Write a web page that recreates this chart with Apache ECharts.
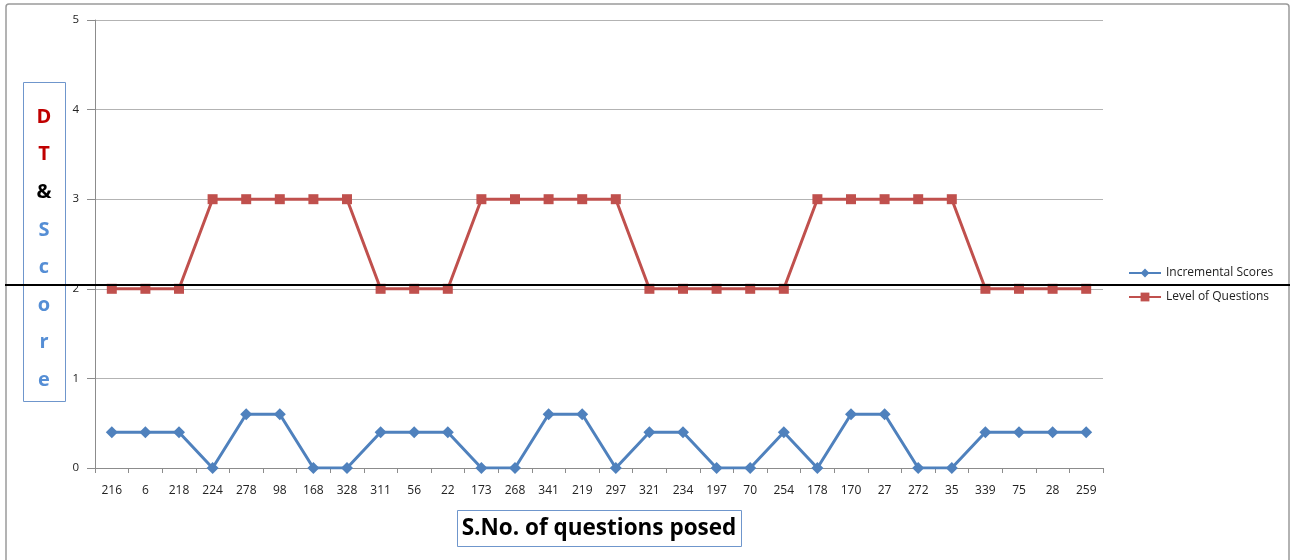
<!DOCTYPE html>
<html>
<head>
<meta charset="utf-8">
<script src="https://cdn.jsdelivr.net/npm/echarts@6/dist/echarts.min.js"></script>
<style>
  html, body { margin: 0; padding: 0; background: #fff; }
  #chart { width: 1293px; height: 560px; }
</style>
</head>
<body>
<div id="chart"></div>
<script>
// Question serial numbers along the x axis
var questionIds = ['216','6','218','224','278','98','168','328','311','56','22','173','268','341','219','297',
                   '321','234','197','70','254','178','170','27','272','35','339','75','28','259'];

// Incremental score earned on each question
var incrementalScores = [0.4,0.4,0.4,0,0.6,0.6,0,0,0.4,0.4,0.4,0,0,0.6,0.6,0,
                         0.4,0.4,0,0,0.4,0,0.6,0.6,0,0,0.4,0.4,0.4,0.4];

// Difficulty level of each question posed
var questionLevels = [2,2,2,3,3,3,3,3,2,2,2,3,3,3,3,3,
                      2,2,2,2,2,3,3,3,3,3,2,2,2,2];

// Vertical axis title letters and their colours
var sideLetters = ['D','T','&','S','c','o','r','e'];
var sideColors  = ['#C00000','#C00000','#000000','#558ED5','#558ED5','#558ED5','#558ED5','#558ED5'];

var FONT = '"Open Sans", "Noto Sans", sans-serif';
var chart = echarts.init(document.getElementById('chart'));

var graphics = [
  // outer frame
  { type: 'rect', shape: { x: 6, y: 4, width: 1283, height: 570, r: 3 },
    style: { fill: 'none', stroke: '#9a9a9a', lineWidth: 1.5 }, z: 0 },
  // side title box
  { type: 'rect', shape: { x: 23.5, y: 82.5, width: 42, height: 319 },
    style: { fill: '#fff', stroke: '#6F96CC', lineWidth: 1 }, z: 5 },
  // x axis title box
  { type: 'rect', shape: { x: 457.5, y: 510.5, width: 284, height: 36 },
    style: { fill: '#fff', stroke: '#6F96CC', lineWidth: 1 }, z: 5 },
  { type: 'text', x: 599, y: 529, z: 6,
    style: { text: 'S.No. of questions posed', fill: '#000', align: 'center', verticalAlign: 'middle',
             font: 'bold 22.5px ' + FONT } },
  // horizontal reference line across the chart
  { type: 'line', shape: { x1: 5, y1: 285, x2: 1290, y2: 285 },
    style: { stroke: '#000', lineWidth: 2 }, z: 20 }
];
sideLetters.forEach(function (ch, i) {
  graphics.push({ type: 'text', x: 44, y: 117 + i * 37.6, z: 6,
    style: { text: ch, fill: sideColors[i], align: 'center', verticalAlign: 'middle',
             font: 'bold 20px ' + FONT } });
});

chart.setOption({
  animation: false,
  backgroundColor: '#fff',
  grid: { left: 95, right: 190, top: 20, bottom: 92 },
  legend: {
    orient: 'vertical', left: 1123, top: 262, itemGap: 12, itemWidth: 32, itemHeight: 11,
    textStyle: { fontFamily: FONT, fontSize: 12, color: '#222' },
    data: ['Incremental Scores', 'Level of Questions']
  },
  xAxis: {
    type: 'category', data: questionIds, boundaryGap: true,
    axisLine: { lineStyle: { color: '#8c8c8c', width: 1 } },
    axisTick: { show: true, length: 5, lineStyle: { color: '#8c8c8c' } },
    axisLabel: { fontFamily: FONT, fontSize: 12, color: '#222', margin: 17, interval: 0 },
    splitLine: { show: false }
  },
  yAxis: {
    type: 'value', min: 0, max: 5, interval: 1,
    axisLine: { show: true, lineStyle: { color: '#8c8c8c', width: 1 } },
    axisTick: { show: true, length: 8, lineStyle: { color: '#8c8c8c' } },
    axisLabel: { fontFamily: FONT, fontSize: 11.5, color: '#222', margin: 16 },
    splitLine: { lineStyle: { color: '#b3b3b3', width: 1 } }
  },
  series: [
    {
      name: 'Incremental Scores', type: 'line', data: incrementalScores,
      symbol: 'diamond', symbolSize: 12,
      lineStyle: { color: '#4F81BD', width: 3 },
      itemStyle: { color: '#4F81BD' }, z: 3
    },
    {
      name: 'Level of Questions', type: 'line', data: questionLevels,
      symbol: 'rect', symbolSize: 10,
      lineStyle: { color: '#C0504D', width: 3 },
      itemStyle: { color: '#C0504D' }, z: 3
    }
  ],
  graphic: graphics
});
</script>
</body>
</html>
